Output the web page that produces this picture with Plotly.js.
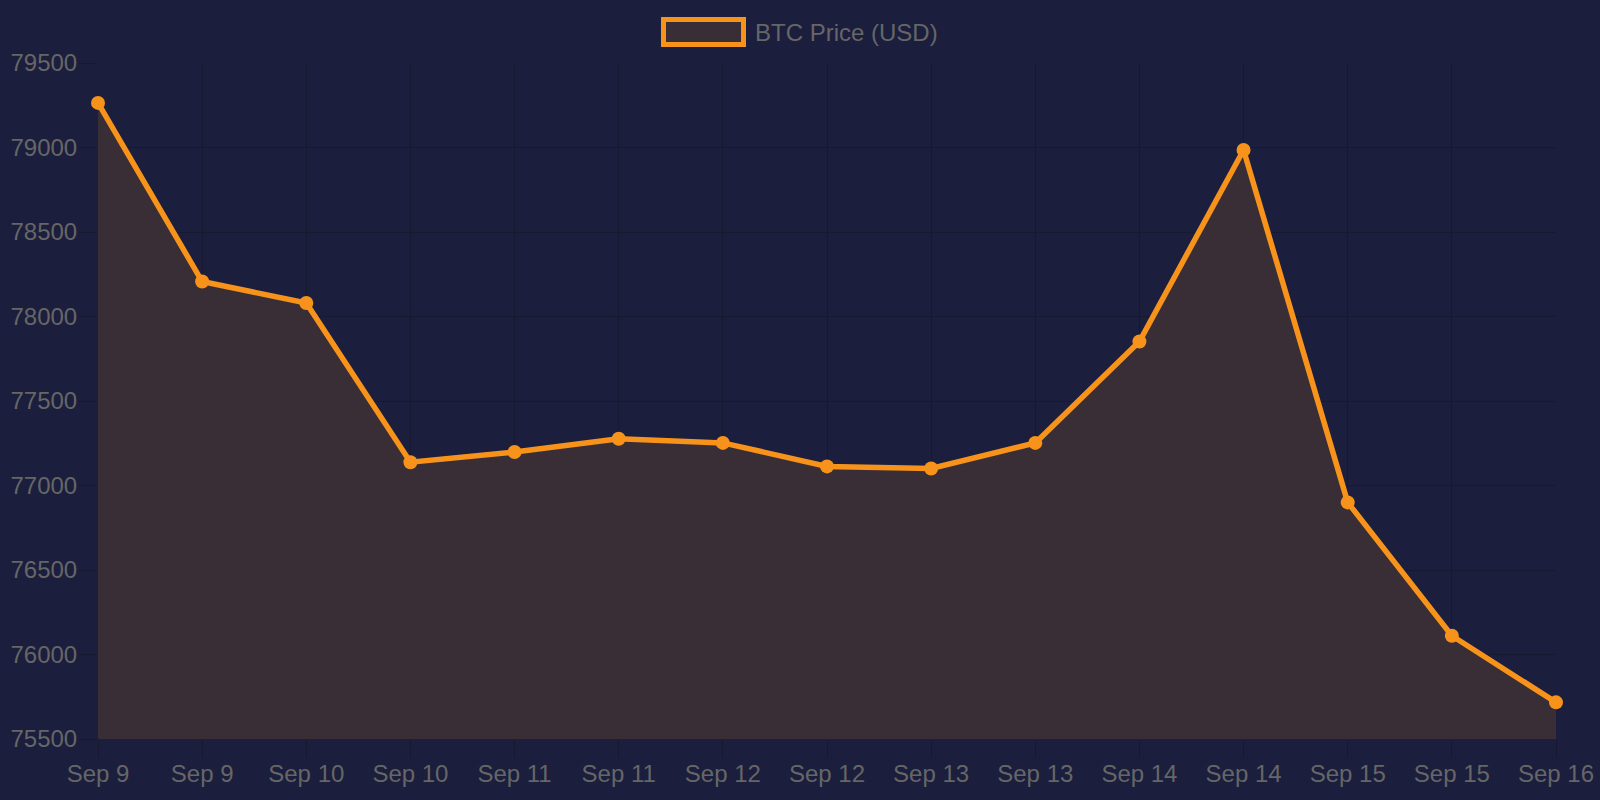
<!DOCTYPE html>
<html>
<head>
<meta charset="utf-8">
<script src="https://cdn.plot.ly/plotly-3.0.1.min.js"></script>
<style>
  html, body { margin: 0; padding: 0; background: #1b1e3d; }
  #chart { width: 1600px; height: 800px; }
</style>
</head>
<body>
<div id="chart"></div>
<script>
// BTC price samples, two per day
var tick_labels = ['Sep 9', 'Sep 9', 'Sep 10', 'Sep 10', 'Sep 11', 'Sep 11', 'Sep 12', 'Sep 12',
                   'Sep 13', 'Sep 13', 'Sep 14', 'Sep 14', 'Sep 15', 'Sep 15', 'Sep 16']
var btc_price = [79264, 78207, 78080, 77138, 77198, 77277, 77252, 77113,
                 77101, 77252, 77852, 78985, 76900, 76111, 75717]
var series_name = 'BTC Price (USD)'

var x_index = tick_labels.map((label, i) => i)

var orange = '#f7931a'
var grid_color = '#16192f'
var text_color = '#666666'

// plot area in pixels, used to place the hand-made legend
var margin = {l: 98, r: 44, t: 63, b: 61, pad: 0}
var plot_w = 1600 - margin.l - margin.r
var plot_h = 800 - margin.t - margin.b
function px_x(px) { return (px - margin.l) / plot_w }
function px_y(py) { return (800 - margin.b - py) / plot_h }

var chart_data = [
  {
    x: x_index,
    y: btc_price,
    name: series_name,
    type: 'scatter',
    mode: 'lines+markers',
    fill: 'tozeroy',
    fillcolor: '#3a2e36',
    line: {color: orange, width: 5.5},
    marker: {color: orange, size: 14},
    cliponaxis: false
  }
]

var chart_layout = {
  width: 1600,
  height: 800,
  margin: margin,
  paper_bgcolor: '#1b1e3d',
  plot_bgcolor: '#1b1e3d',
  showlegend: false,
  font: {family: 'Liberation Sans, Arial, sans-serif', size: 24, color: text_color},
  xaxis: {
    range: [0, x_index.length - 1],
    tickvals: x_index,
    ticktext: tick_labels,
    showgrid: true,
    gridcolor: grid_color,
    gridwidth: 1,
    ticks: 'outside',
    ticklen: 18,
    tickcolor: grid_color,
    ticklabelstandoff: -5,
    zeroline: false,
    showline: false,
    fixedrange: true
  },
  yaxis: {
    range: [75500, 79500],
    dtick: 500,
    tick0: 75500,
    tickformat: 'd',
    showgrid: true,
    gridcolor: grid_color,
    gridwidth: 1,
    ticks: 'outside',
    ticklen: 18,
    tickcolor: grid_color,
    ticklabelstandoff: -3,
    zeroline: false,
    showline: false,
    fixedrange: true
  },
  shapes: [
    {
      type: 'rect', xref: 'paper', yref: 'paper',
      x0: px_x(663.5), x1: px_x(743.5), y0: px_y(44.5), y1: px_y(19.5),
      line: {color: orange, width: 5},
      fillcolor: '#3a2e36'
    }
  ],
  annotations: [
    {
      text: series_name, xref: 'paper', yref: 'paper',
      x: px_x(753), y: px_y(32), xanchor: 'left', yanchor: 'middle',
      showarrow: false,
      font: {size: 24, color: text_color}
    }
  ]
}

Plotly.newPlot('chart', chart_data, chart_layout, {displayModeBar: false})
</script>
</body>
</html>
